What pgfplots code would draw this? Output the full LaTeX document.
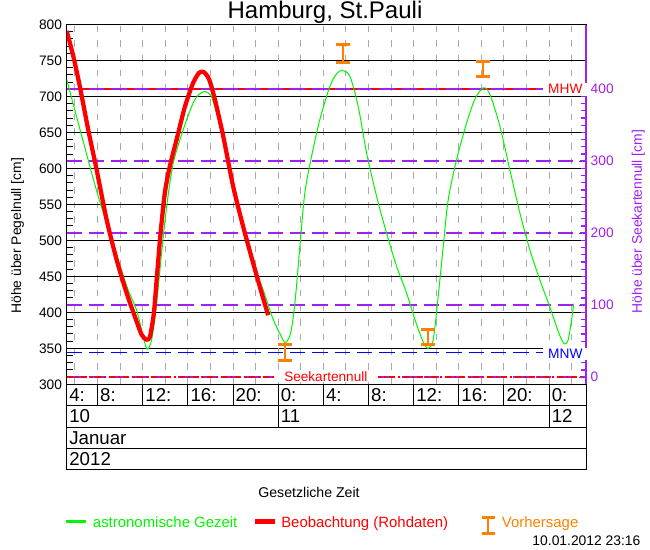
\documentclass[border=0pt]{standalone}
\usepackage{pgfplots}
\pgfplotsset{compat=1.18}
\usepackage{fontspec}
\setmainfont{Liberation Sans}
\definecolor{tgreen}{RGB}{0,245,0}
\definecolor{tred}{RGB}{255,0,0}
\definecolor{vorange}{RGB}{255,128,0}
\definecolor{purp}{RGB}{160,32,240}
\definecolor{tblue}{RGB}{0,0,255}
\definecolor{lgray}{RGB}{170,170,170}
\begin{document}
\begin{tikzpicture}
\path[use as bounding box] (0,0) rectangle (487.5pt,412.5pt);
% ---------------- main axis ----------------
\begin{axis}[
  at={(50.025pt,124.275pt)}, anchor=south west,
  width=389.5pt, height=269.85pt, scale only axis,
  xmin=5.267, xmax=51.267, ymin=300, ymax=800,
  xtick={6,8,...,50}, xticklabels={},
  x tick style={draw=none},
  xmajorgrids,
  x grid style={lgray, line width=0.75pt, dash pattern=on 5pt off 6pt},
  extra x ticks={24,48}, extra x tick labels={},
  extra x tick style={grid=major, major grid style={black, line width=0.75pt, dash pattern=on 5pt off 6pt}},
  ytick={300,350,...,800}, minor y tick num=4,
  ytick pos=left, tick align=inside,
  major tick length=5pt, minor tick length=5pt,
  ymajorgrids, y grid style={black, line width=0.75pt},
  y tick style={black, line width=0.75pt},
  axis line style={black, line width=0.75pt},
  yticklabel style={font=\fontsize{10.3}{12}\selectfont, /pgf/number format/assume math mode=true},
]
% MHW
\addplot[draw=tred, line width=1pt] coordinates {(5.267,710.6) (51.267,710.6)};
% purple reference lines (Seekartennull scale)
\addplot[draw=purp, line width=1pt, dash pattern=on 11.5pt off 5.25pt] coordinates {(5.267,310) (51.267,310)};
\addplot[draw=purp, line width=1pt, dash pattern=on 11.5pt off 5.25pt] coordinates {(5.267,410) (51.267,410)};
\addplot[draw=purp, line width=1pt, dash pattern=on 11.5pt off 5.25pt] coordinates {(5.267,510.2) (51.267,510.2)};
\addplot[draw=purp, line width=1pt, dash pattern=on 11.5pt off 5.25pt] coordinates {(5.267,610.4) (51.267,610.4)};
\addplot[draw=purp, line width=1pt, dash pattern=on 11.5pt off 5.25pt] coordinates {(5.267,710.6) (51.267,710.6)};
% MNW
\addplot[draw=tblue, line width=1pt, dash pattern=on 11.5pt off 5.25pt] coordinates {(5.267,344) (51.267,344)};
% Seekartennull
\addplot[draw=tred, line width=1.1pt, dash pattern=on 4.5pt off 2.25pt on 1.5pt off 2.25pt] coordinates {(5.267,310) (51.267,310)};
% astronomische Gezeit
\addplot[draw=tgreen, line width=0.75pt, smooth, tension=0.5] coordinates {
(5.27,723.5) (6.6,645) (7.97,566) (9.3,500) (10.57,437) (11.46,403) (12.04,366) (12.4,349)
(12.79,362) (13.23,413) (13.67,482) (14.12,547) (14.7,607) (15.59,654) (16.47,691) (17.0,703)
(17.53,707) (18.0,702) (18.24,693) (18.84,658.5) (19.72,594) (20.6,533) (21.64,473) (22.67,431)
(23.56,390) (24.3,366) (24.65,358) (25.1,371) (25.48,413) (25.92,491) (26.36,566) (26.96,617)
(27.69,668) (28.58,714) (29.2,732) (29.7,736) (30.35,728) (31.09,686) (31.83,621.5) (32.72,561)
(33.6,510) (34.49,464) (35.37,427) (36.11,390) (36.84,359) (37.29,350) (37.73,362) (38.17,422)
(38.62,491.5) (39.06,556.5) (39.8,612) (40.69,663) (41.42,696) (42.16,712) (42.75,703) (43.64,658.5)
(44.52,598) (45.41,538) (46.29,487) (47.18,445) (48.0,410) (48.66,380) (49.1,362) (49.39,356)
(49.69,362) (49.99,390) (50.18,412)
};
% Beobachtung
\addplot[draw=tred, line width=3.2pt, smooth, tension=0.4, line join=round] coordinates {
(5.27,791) (5.85,756) (6.43,714) (7.17,654) (7.92,598) (8.8,529) (9.69,473) (10.57,427)
(11.31,394) (11.9,369) (12.34,362) (12.64,366) (12.99,399) (13.28,454) (13.58,510) (13.96,566)
(14.4,603) (15.0,640) (15.74,686) (16.47,719) (17.0,733) (17.42,734) (17.89,723.5) (18.39,696)
(19.13,645) (20.01,575) (20.9,519) (21.79,468) (22.53,427) (23.11,396)
};
% Vorhersage
\addplot[draw=none, mark=none,
  error bars/.cd, y dir=both, y explicit,
  error bar style={draw=vorange, line width=1.5pt, solid},
  error mark options={draw=vorange, line width=2.25pt, mark size=5.25pt, rotate=90, solid}]
  coordinates {(24.6,344.2) +- (0,10.5) (29.7,759.5) +- (0,12.7) (37.24,365.2) +- (0,10.4) (42.16,738.5) +- (0,10.5)};
\coordinate (mhw) at (axis cs:49.44,710);
\coordinate (mnw) at (axis cs:49.44,342);
\coordinate (skn) at (axis cs:28.22,310);
\end{axis}
% ---------------- right axis (Seekartennull) ----------------
\begin{axis}[
  at={(50.025pt,124.275pt)}, anchor=south west,
  width=389.5pt, height=269.85pt, scale only axis,
  xmin=5.267, xmax=51.267, ymin=-10, ymax=490,
  axis x line=none, axis y line*=right,
  y axis line style={purp, line width=1.1pt, -},
  ytick={0,100,...,400}, minor y tick num=9, tick align=inside,
  major tick length=5pt, minor tick length=4pt,
  every tick/.style={purp, line width=0.9pt},
  yticklabel style={purp, font=\fontsize{10.3}{12}\selectfont, /pgf/number format/assume math mode=true},
]
\end{axis}
% ---------------- time table ----------------
\begin{axis}[
  at={(50.025pt,60pt)}, anchor=south west,
  width=389.5pt, height=64.275pt, scale only axis,
  xmin=5.267, xmax=51.267, ymin=0, ymax=4,
  xtick=\empty, ytick=\empty,
  axis line style={black, line width=0.75pt},
  clip=false,
]
\draw[black, line width=0.75pt] (axis cs:5.267,3) -- (axis cs:51.267,3);
\draw[black, line width=0.75pt] (axis cs:5.267,2) -- (axis cs:51.267,2);
\draw[black, line width=0.75pt] (axis cs:5.267,1) -- (axis cs:51.267,1);
\draw[black, line width=0.75pt] (axis cs:8,3) -- (axis cs:8,4);
\draw[black, line width=0.75pt] (axis cs:12,3) -- (axis cs:12,4);
\draw[black, line width=0.75pt] (axis cs:16,3) -- (axis cs:16,4);
\draw[black, line width=0.75pt] (axis cs:20,3) -- (axis cs:20,4);
\draw[black, line width=0.75pt] (axis cs:24,3) -- (axis cs:24,4);
\draw[black, line width=0.75pt] (axis cs:28,3) -- (axis cs:28,4);
\draw[black, line width=0.75pt] (axis cs:32,3) -- (axis cs:32,4);
\draw[black, line width=0.75pt] (axis cs:36,3) -- (axis cs:36,4);
\draw[black, line width=0.75pt] (axis cs:40,3) -- (axis cs:40,4);
\draw[black, line width=0.75pt] (axis cs:44,3) -- (axis cs:44,4);
\draw[black, line width=0.75pt] (axis cs:48,3) -- (axis cs:48,4);
\draw[black, line width=0.75pt] (axis cs:24,2) -- (axis cs:24,3);
\draw[black, line width=0.75pt] (axis cs:48,2) -- (axis cs:48,3);
\begin{scope}[every node/.style={anchor=west, inner sep=0pt, xshift=1.8pt, font=\fontsize{14}{16}\selectfont}]
\node at (axis cs:5.267,3.5) {4:};
\node at (axis cs:8,3.5) {8:};
\node at (axis cs:12,3.5) {12:};
\node at (axis cs:16,3.5) {16:};
\node at (axis cs:20,3.5) {20:};
\node at (axis cs:24,3.5) {0:};
\node at (axis cs:28,3.5) {4:};
\node at (axis cs:32,3.5) {8:};
\node at (axis cs:36,3.5) {12:};
\node at (axis cs:40,3.5) {16:};
\node at (axis cs:44,3.5) {20:};
\node at (axis cs:48,3.5) {0:};
\node at (axis cs:5.267,2.5) {10};
\node at (axis cs:24,2.5) {11};
\node at (axis cs:48,2.5) {12};
\node at (axis cs:5.267,1.5) {Januar};
\node at (axis cs:5.267,0.5) {2012};
\end{scope}
\end{axis}
% ---------------- labels over the plot ----------------
\node[fill=white, inner xsep=4pt, inner ysep=0pt, minimum height=9.5pt, text=tred, font=\fontsize{10.3}{12}\selectfont] at (mhw) {MHW};
\node[fill=white, inner xsep=4pt, inner ysep=0pt, minimum height=9.5pt, text=tblue, font=\fontsize{10.3}{12}\selectfont] at (mnw) {MNW};
\node[fill=white, inner xsep=8pt, inner ysep=0pt, minimum height=5pt, text=tred, font=\fontsize{10.2}{12}\selectfont] at (skn) {Seekartennull};
% ---------------- outer texts (pixel coordinates) ----------------
\begin{scope}[x=0.75pt, y=-0.75pt, yshift=412.5pt]
\node[font=\fontsize{18}{20}\selectfont] at (325,12.5) {Hamburg, St.Pauli};
\node[rotate=90, font=\fontsize{10.4}{12}\selectfont] at (17.5,235.8) {Höhe über Pegelnull [cm]};
\node[rotate=90, text=purp, font=\fontsize{10.4}{12}\selectfont] at (638.3,221.7) {Höhe über Seekartennull [cm]};
\node[font=\fontsize{10.6}{12}\selectfont] at (309,492) {Gesetzliche Zeit};
% legend
\draw[tgreen, line width=2.2pt] (66,521.7) -- (85.7,521.7);
\node[anchor=base west, inner sep=0pt, text=tgreen, font=\fontsize{11.2}{13}\selectfont] at (92.7,527.7) {astronomische Gezeit};
\draw[tred, line width=3.5pt] (255,521.7) -- (275,521.7);
\node[anchor=base west, inner sep=0pt, text=tred, font=\fontsize{11.2}{13}\selectfont] at (281,527.7) {Beobachtung (Rohdaten)};
\draw[vorange, line width=1.5pt] (488.3,517.5) -- (488.3,533.5);
\draw[vorange, line width=2.25pt] (481.7,517.5) -- (495,517.5);
\draw[vorange, line width=2.25pt] (481.7,533.5) -- (495,533.5);
\node[anchor=base west, inner sep=0pt, text=vorange, font=\fontsize{11.2}{13}\selectfont] at (501.7,527.7) {Vorhersage};
\node[anchor=base east, inner sep=0pt, font=\fontsize{10.4}{12}\selectfont] at (640.7,545.7) {10.01.2012 23:16};
\end{scope}
\end{tikzpicture}
\end{document}
